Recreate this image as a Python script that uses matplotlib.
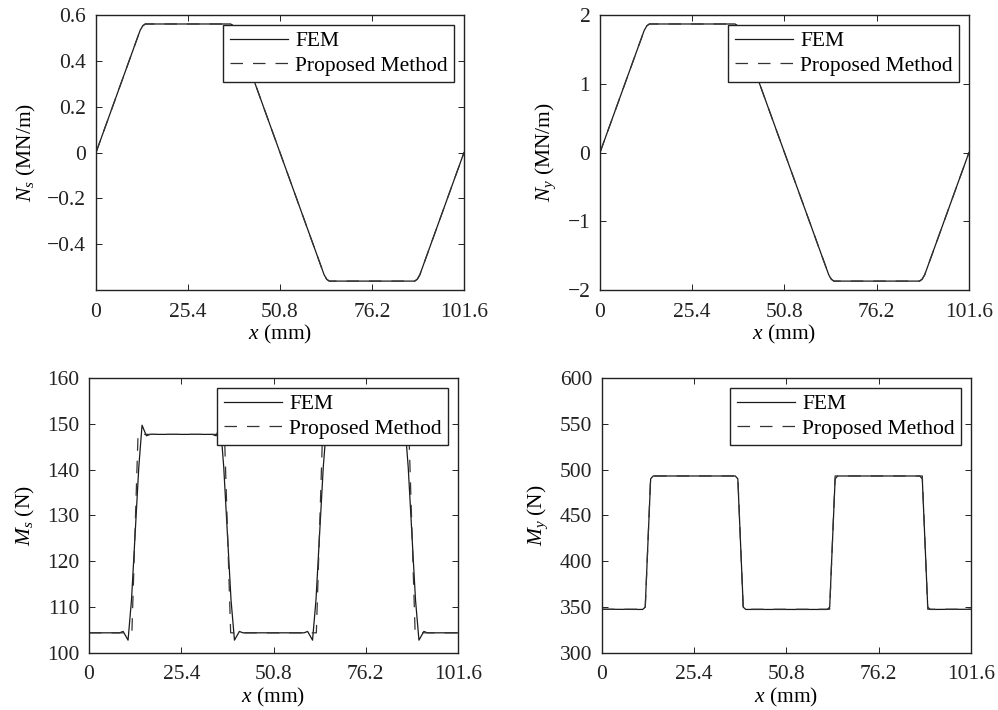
import matplotlib
matplotlib.use('Agg')
import matplotlib.pyplot as plt

plt.rcParams['font.family'] = 'Liberation Serif'
plt.rcParams['mathtext.fontset'] = 'custom'
plt.rcParams['mathtext.rm'] = 'Liberation Serif'
plt.rcParams['mathtext.it'] = 'Liberation Serif:italic'
plt.rcParams['font.size'] = 15.5
plt.rcParams['axes.unicode_minus'] = True

x_ticks = [0, 25.4, 50.8, 76.2, 101.6]
x_ticklabels = ['0', '25.4', '50.8', '76.2', '101.6']

# in-plane force N_s (MN/m)
x_ns = [0, 12.2, 12.9, 13.6, 37.2, 37.9, 38.6, 63.0, 63.7, 64.4, 88.0, 88.7, 89.4, 101.6]
ns_fem = [0, 0.534, 0.553, 0.561, 0.561, 0.553, 0.534, -0.534, -0.553, -0.561, -0.561, -0.553, -0.534, 0]
ns_pm = [0, 0.534, 0.553, 0.561, 0.561, 0.553, 0.534, -0.534, -0.553, -0.561, -0.561, -0.553, -0.534, 0]

# in-plane force N_y (MN/m)
x_ny = [0, 12.2, 12.9, 13.6, 37.2, 37.9, 38.6, 63.0, 63.7, 64.4, 88.0, 88.7, 89.4, 101.6]
ny_fem = [0, 1.78, 1.843, 1.87, 1.87, 1.843, 1.78, -1.78, -1.843, -1.87, -1.87, -1.843, -1.78, 0]
ny_pm = [0, 1.78, 1.843, 1.87, 1.87, 1.843, 1.78, -1.78, -1.843, -1.87, -1.87, -1.843, -1.78, 0]

# moment M_s (N)
x_ms_fem = [0, 8.4, 9.4, 10.75, 11.7, 13.7, 14.6, 15.8, 16.9,
            33.9, 35.0, 36.2, 37.1, 39.1, 40.05, 41.4, 42.4,
            59.2, 60.2, 61.55, 62.5, 64.5, 65.4, 66.6, 67.7,
            84.7, 85.8, 87.0, 87.9, 89.9, 90.85, 92.2, 93.2, 101.6]
ms_fem = [104.4, 104.4, 104.7, 102.8, 111.6, 140.5, 149.7, 147.4, 147.7,
          147.7, 147.4, 149.7, 140.5, 111.6, 102.8, 104.7, 104.4,
          104.4, 104.7, 102.8, 111.6, 140.5, 149.7, 147.4, 147.7,
          147.7, 147.4, 149.7, 140.5, 111.6, 102.8, 104.7, 104.4, 104.4]
x_ms_pm = [0, 11.8, 13.5, 37.3, 39.0, 62.6, 64.3, 88.1, 89.8, 101.6]
ms_pm = [104.4, 104.4, 147.7, 147.7, 104.4, 104.4, 147.7, 147.7, 104.4, 104.4]

# moment M_y (N)
x_my_fem = [0, 11.2, 11.9, 13.4, 14.1, 36.7, 37.4, 38.9, 39.6,
            62.0, 62.7, 64.2, 64.9, 87.5, 88.2, 89.7, 90.4, 101.6]
my_fem = [347.7, 347.5, 350, 490, 493.1, 493.1, 490, 350, 347.5,
          347.5, 350, 490, 493.1, 493.1, 490, 350, 347.5, 347.7]
x_my_pm = [0, 11.9, 13.4, 37.4, 38.9, 62.7, 64.2, 88.2, 89.7, 101.6]
my_pm = [347.7, 347.7, 493.1, 493.1, 347.7, 347.7, 493.1, 493.1, 347.7, 347.7]

fig = plt.figure(figsize=(9.98, 7.10), dpi=100)

panels = [
    # rect, x fem, y fem, x pm, y pm, ylim, yticks, yticklabels, ylabel
    ([0.0962, 0.5915, 0.3687, 0.3873], x_ns, ns_fem, x_ns, ns_pm, (-0.6, 0.6),
     [-0.4, -0.2, 0, 0.2, 0.4, 0.6], ['\u22120.4', '\u22120.2', '0', '0.2', '0.4', '0.6'],
     r'$N_s$ (MN/m)'),
    ([0.6012, 0.5915, 0.3697, 0.3873], x_ny, ny_fem, x_ny, ny_pm, (-2, 2),
     [-2, -1, 0, 1, 2], ['\u22122', '\u22121', '0', '1', '2'],
     r'$N_y$ (MN/m)'),
    ([0.0892, 0.0803, 0.3697, 0.3873], x_ms_fem, ms_fem, x_ms_pm, ms_pm, (100, 160),
     [100, 110, 120, 130, 140, 150, 160], ['100', '110', '120', '130', '140', '150', '160'],
     r'$M_s$ (N)'),
    ([0.6032, 0.0803, 0.3697, 0.3873], x_my_fem, my_fem, x_my_pm, my_pm, (300, 600),
     [300, 350, 400, 450, 500, 550, 600], ['300', '350', '400', '450', '500', '550', '600'],
     r'$M_y$ (N)'),
]

for rect, xf, yf, xp, yp, ylim, yt, ytl, ylab in panels:
    ax = fig.add_axes(rect)
    ax.plot(xf, yf, color='#1a1a1a', lw=0.9, label='FEM')
    ax.plot(xp, yp, color='#333333', lw=0.9, dashes=(10, 8), label='Proposed Method')
    ax.set_xlim(0, 101.6)
    ax.set_ylim(*ylim)
    ax.set_xticks(x_ticks)
    ax.set_xticklabels(x_ticklabels)
    ax.set_yticks(yt)
    ax.set_yticklabels(ytl)
    ax.tick_params(direction='in', top=True, right=True, length=4, width=0.7,
                   labelsize=15.5, colors='#222222')
    ax.tick_params(axis='x', pad=9)
    ax.tick_params(axis='y', pad=7)
    for s in ax.spines.values():
        s.set_linewidth(1.0)
        s.set_color('#222222')
    ax.set_xlabel(r'$x$ (mm)', labelpad=1)
    ax.set_ylabel(ylab, labelpad=7)
    leg = ax.legend(loc='upper right', fancybox=False, framealpha=1, edgecolor='#222222',
                    handlelength=2.7, labelspacing=0.2, borderpad=0.3,
                    borderaxespad=0.45, handletextpad=0.35, fontsize=15.5)
    leg.get_frame().set_linewidth(1.0)

plt.savefig('out.png', dpi=100)
